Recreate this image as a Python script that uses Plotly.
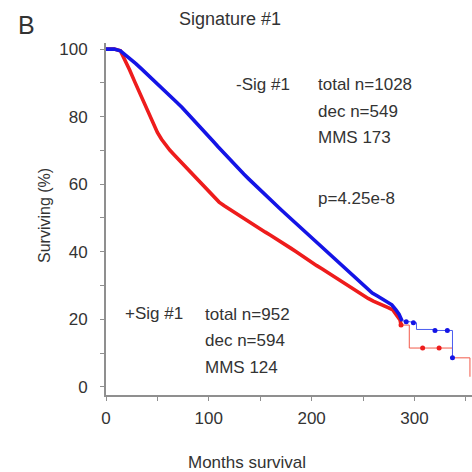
import plotly.graph_objects as go

# ---- data ----
neg_label = "-Sig #1"
pos_label = "+Sig #1"

neg_months = [0, 4, 8, 14, 19, 24, 29, 34, 39, 44, 49, 54, 59, 64, 69, 74, 79, 84, 89, 94,
              99, 104, 109, 114, 119, 124, 129, 134, 139, 144, 149, 154, 159, 164, 169, 174,
              179, 184, 189, 194, 199, 204, 209, 214, 219, 224, 229, 234, 239, 244, 249, 254,
              259, 264, 269, 274, 278, 282, 285, 288, 292, 296, 299, 302, 320, 332, 337]
neg_surv = [100, 100, 100, 99.5, 98.3, 97.0, 95.7, 94.3, 92.9, 91.5, 90.1, 88.7, 87.2, 85.7,
            84.2, 82.7, 81.1, 79.5, 77.9, 76.2, 74.5, 72.8, 71.1, 69.4, 67.8, 66.2, 64.6, 63.0,
            61.5, 60.0, 58.5, 57.0, 55.6, 54.2, 52.8, 51.4, 50.0, 48.6, 47.2, 45.8, 44.4, 43.0,
            41.6, 40.2, 38.8, 37.4, 36.0, 34.6, 33.2, 31.8, 30.4, 29.0, 27.8, 26.9, 26.0, 25.1,
            24.3, 22.8, 21.5, 19.5, 19.3, 19.2, 19.0, 17.0, 16.7, 16.7, 8.6]
neg_censor_months = [292, 299, 320, 332, 337]
neg_censor_surv = [19.3, 19.0, 16.7, 16.7, 8.6]

pos_months = [0, 4, 8, 14, 18, 23, 28, 33, 38, 42, 46, 50, 54, 58, 62, 66, 70, 75, 80, 85, 90,
              95, 100, 105, 110, 115, 120, 125, 130, 135, 140, 145, 150, 155, 160, 165, 170,
              175, 180, 185, 190, 195, 200, 205, 210, 215, 220, 225, 230, 235, 240, 245, 250,
              255, 260, 265, 270, 275, 279, 283, 286, 287, 295, 308, 324, 337, 354]
pos_surv = [100, 100, 100, 99.5, 97.2, 93.8, 90.3, 86.8, 83.3, 80.4, 77.6, 75.3, 73.3, 71.6,
            70.1, 68.8, 67.5, 66.0, 64.3, 62.6, 60.9, 59.2, 57.6, 56.0, 54.7, 53.6, 52.6, 51.6,
            50.6, 49.5, 48.5, 47.6, 46.7, 45.8, 44.9, 44.0, 43.0, 42.0, 41.0, 40.0, 38.9, 37.9,
            36.9, 35.9, 35.0, 34.0, 33.0, 32.0, 31.1, 30.1, 29.1, 28.2, 27.2, 26.2, 25.4, 24.8,
            24.1, 23.4, 22.8, 21.2, 19.8, 18.3, 11.5, 11.5, 11.5, 8.6, 3.0]
pos_censor_months = [287, 308, 324]
pos_censor_surv = [18.3, 11.5, 11.5]

dense_end_neg = 288
dense_end_pos = 287

x_tickvals = [0, 50, 100, 150, 200, 250, 300, 350]
x_ticktext = ["0", "", "100", "", "200", "", "300", ""]
y_tickvals = [0, 10, 20, 30, 40, 50, 60, 70, 80, 90, 100]
y_ticktext = ["0", "", "20", "", "40", "", "60", "", "80", "", "100"]

neg_stats = ["total n=1028", "dec n=549", "MMS 173"]
pos_stats = ["total n=952", "dec n=594", "MMS 124"]
p_text = "p=4.25e-8"

BLUE = "#1414e6"
BLUE_THIN = "#4a5cf0"
RED = "#ee1c1c"
RED_THIN = "#f25a4a"
FONT = "Liberation Sans, Arial, sans-serif"
TXT = "#333333"

fig = go.Figure()

def add_group(months, surv, cmon, csurv, dense_end, col, thin):
    # thin step line for the sparse tail
    tm = [m for m in months if m >= dense_end]
    ts = [s for m, s in zip(months, surv) if m >= dense_end]
    fig.add_trace(go.Scatter(x=tm, y=ts, mode="lines", line=dict(color=thin, width=1, shape="hv"),
                             hoverinfo="skip", showlegend=False, cliponaxis=False))
    # thick dense part (many censor marks)
    dm = [m for m in months if m <= dense_end]
    ds = [s for m, s in zip(months, surv) if m <= dense_end]
    fig.add_trace(go.Scatter(x=dm, y=ds, mode="lines", line=dict(color=col, width=3.6),
                             hoverinfo="skip", showlegend=False, cliponaxis=False))
    fig.add_trace(go.Scatter(x=cmon, y=csurv, mode="markers", marker=dict(color=col, size=5),
                             hoverinfo="skip", showlegend=False, cliponaxis=False))

add_group(pos_months, pos_surv, pos_censor_months, pos_censor_surv, dense_end_pos, RED, RED_THIN)
add_group(neg_months, neg_surv, neg_censor_months, neg_censor_surv, dense_end_neg, BLUE, BLUE_THIN)

axis_common = dict(showline=True, linecolor="#8f8f8f", linewidth=2, ticks="outside", ticklen=4,
                   tickcolor="#8f8f8f", tickwidth=1, showgrid=False, zeroline=False,
                   tickfont=dict(family=FONT, size=17, color=TXT))

fig.update_layout(
    width=472, height=472,
    margin=dict(l=106, r=0, t=43, b=77),
    paper_bgcolor="white", plot_bgcolor="white",
    xaxis=dict(range=[0, 356], tickvals=x_tickvals, ticktext=x_ticktext, ticklabelstandoff=3, **axis_common),
    yaxis=dict(range=[-2.4, 101.8], tickvals=y_tickvals, ticktext=y_ticktext, ticklabelstandoff=9, **axis_common),
    font=dict(family=FONT, color=TXT),
)

def px_x(px):
    return (px - 106) / 366.0

def px_y(py):
    return (395 - py) / 352.0

ann = []
def text(s, x, y, size=17, xanchor="left", angle=0):
    ann.append(dict(text=s, x=px_x(x), y=px_y(y), xref="paper", yref="paper", showarrow=False,
                    xanchor=xanchor, yanchor="middle", textangle=angle,
                    font=dict(family=FONT, size=size, color=TXT)))

text("B", 16, 25, size=25)
text("Signature #1", 177, 19, size=18)
text(neg_label, 234, 85)
for i, s in enumerate(neg_stats):
    text(s, 316, 85 + 26 * i)
text(p_text, 316, 198)
text(pos_label, 123, 313)
for i, s in enumerate(pos_stats):
    text(s, 203, 314 + 26.5 * i)
text("Surviving (%)", 44, 216, size=16, xanchor="center", angle=-90)
text("Months survival", 247, 462, size=17, xanchor="center")

fig.update_layout(annotations=ann)
fig.write_html("out.html", config={"displayModeBar": False},
               post_script="document.body.style.margin='0';document.body.style.overflow='hidden';")
